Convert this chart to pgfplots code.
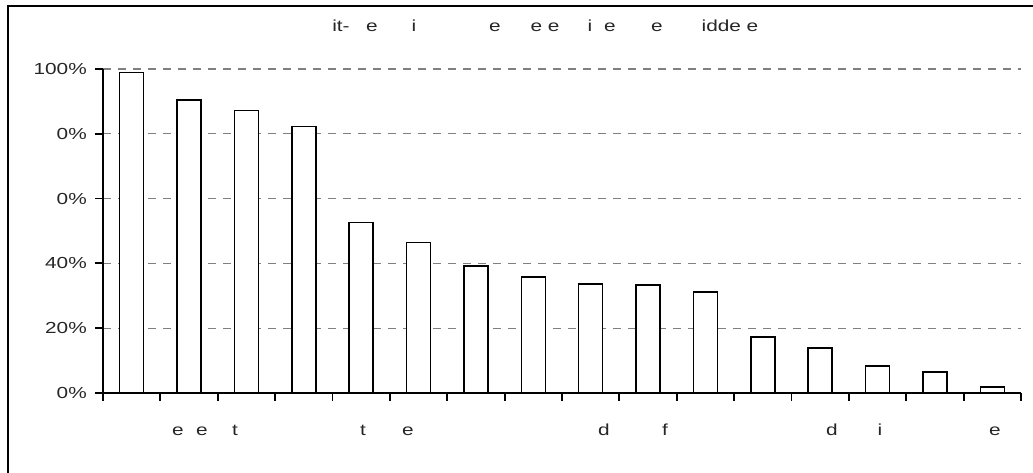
\documentclass[border=0pt]{standalone}
\usepackage{pgfplots}
\pgfplotsset{compat=1.18}
\usepackage{fontspec}
\setmainfont{Liberation Sans}
\newfontfamily\wideFont[FakeStretch=1.3]{Liberation Sans}
\newcommand{\myLabelFont}{\wideFont\fontsize{16pt}{19pt}\selectfont}
\begin{document}
\begin{tikzpicture}[x=1pt,y=1pt]
\begin{axis}[
  at={(103pt,80pt)}, anchor=south west,
  scale only axis, width=918pt, height=324pt,
  xmin=-0.5, xmax=15.5, ymin=0, ymax=1,
  axis x line=bottom, axis y line=left,
  axis line style={-, line width=1.8pt, black},
  xtick={-0.5,0.5,...,15.5}, xticklabels={},
  ytick={0,0.2,0.4,0.6,0.8,1},
  yticklabels={0\%,20\%,40\%,0\%,0\%,100\%},
  tick align=outside, major tick length=8pt,
  tick style={line width=1.8pt, black},
  yticklabel style={font=\myLabelFont, text=black!85, inner sep=0pt, xshift=-8pt},
  ymajorgrids, grid style={dash pattern=on 8pt off 7pt, line width=1.2pt, gray},
  clip=false,
]
\addplot[ybar, bar width=24pt, fill=white, draw=black, line width=1.4pt] coordinates {
(0,0.990) (1,0.904) (2,0.871) (3,0.822) (4,0.526) (5,0.465) (6,0.392) (7,0.358)
(8,0.336) (9,0.333) (10,0.312) (11,0.173) (12,0.139) (13,0.083) (14,0.065) (15,0.019)};
\end{axis}
% title fragments
\begin{scope}[every node/.style={font=\myLabelFont, text=black!85, anchor=base, inner sep=0pt}]
\node at (341,441) {it-};
\node at (372,441) {e};
\node at (414,441) {i};
\node at (495,441) {e};
\node at (545,441) {e e};
\node at (590,441) {i};
\node at (610,441) {e};
\node at (657,441) {e};
\node at (730,441) {idde e};
% x label fragments
\node at (178,37) {e};
\node at (202,37) {e};
\node at (235,37) {t};
\node at (363,37) {t};
\node at (408,37) {e};
\node at (604,37) {d};
\node at (665,37) {f};
\node at (832,37) {d};
\node at (880,37) {i};
\node at (995,37) {e};
\end{scope}
\draw[line width=2pt] (7.5,-20) -- (7.5,467) -- (1050,467);
\pgfresetboundingbox
\path[use as bounding box] (0,0) rectangle (1033,473);
\end{tikzpicture}
\end{document}
